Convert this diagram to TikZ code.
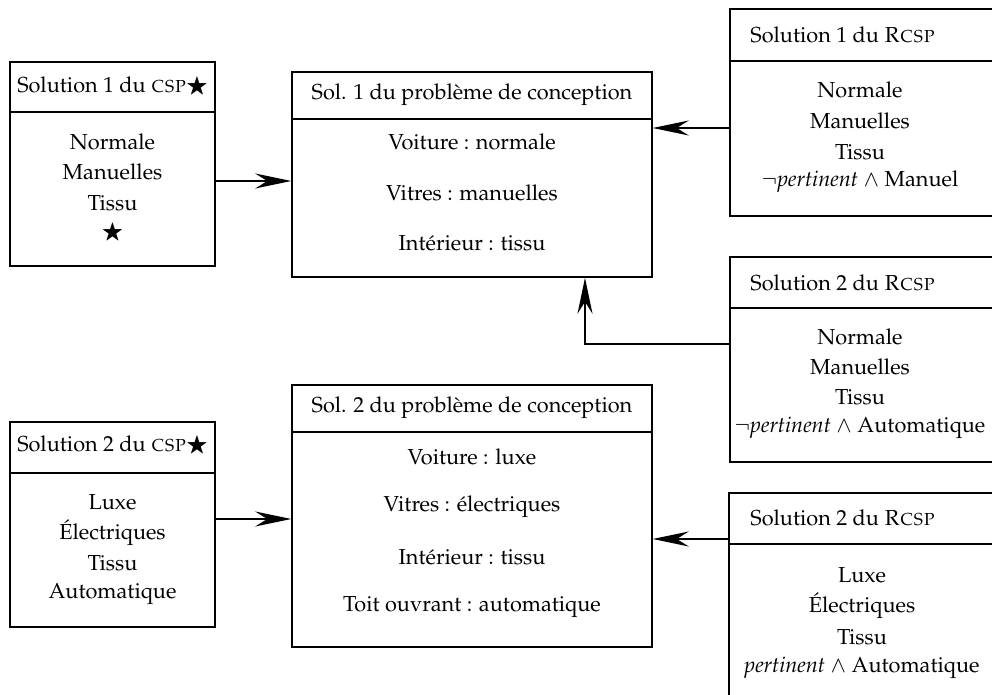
\documentclass[tikz,border=0pt]{standalone}
\usepackage[T1]{fontenc}
\usepackage{mathpazo}
\usepackage{amssymb}
\usetikzlibrary{arrows.meta}
\begin{document}
\begin{tikzpicture}[x=0.5pt,y=-0.5pt,
  box/.style={draw, line width=0.75pt, rectangle, inner sep=0pt},
  sep/.style={line width=0.75pt},
  txt/.style={inner sep=0pt, font=\fontsize{10.85}{13}\selectfont},
  conn/.style={line width=0.95pt, -{Stealth[length=18pt,width=7.5pt,inset=6pt]}}]
\useasboundingbox (0,0) rectangle (992,695);
\clip (0,0) rectangle (992,695);

% boxes
\node[box, minimum width=102.5pt, minimum height=102pt] (L1) at (112.5,164) {};
\node[box, minimum width=180pt, minimum height=102.5pt] (M1) at (472,174.5) {};
\node[box, minimum width=135pt, minimum height=103.5pt] (R1) at (865,112.5) {};
\node[box, minimum width=135pt, minimum height=102.5pt] (R2) at (865,359.5) {};
\node[box, minimum width=102.5pt, minimum height=102.5pt] (L2) at (112.5,524.5) {};
\node[box, minimum width=180pt, minimum height=131pt] (M2) at (472,516) {};
\node[box, minimum width=135.5pt, minimum height=120pt] (R3) at (864.5,613) {};

% header separators
\draw[sep] (10,112) -- (215,112);
\draw[sep] (292,119) -- (652,119);
\draw[sep] (730,61) -- (1000,61);
\draw[sep] (730,308) -- (1000,308);
\draw[sep] (10,473) -- (215,473);
\draw[sep] (292,432) -- (652,432);
\draw[sep] (729,544) -- (1000,544);

% L1
\node[txt] (L1h) at (112.5,87) {Solution 1 du \textsc{csp}$\bigstar$};
\node[txt] (L1a) at (112.5,142) {Normale};
\node[txt] (L1b) at (112.5,172) {Manuelles};
\node[txt] (L1c) at (112.5,203) {Tissu};
\node[txt] (L1d) at (112.5,233) {$\bigstar$};

% M1
\node[txt] (M1h) at (472,95) {Sol. 1 du probl\`eme de conception};
\node[txt] (M1a) at (472,142) {Voiture : normale};
\node[txt] (M1b) at (472,193) {Vitres : manuelles};
\node[txt] (M1c) at (472,243) {Int\'erieur : tissu};

% R1
\node[txt, anchor=west] (R1h) at (750,35) {Solution 1 du \textsc{Rcsp}};
\node[txt] (R1a) at (860,90) {Normale};
\node[txt] (R1b) at (860,121) {Manuelles};
\node[txt] (R1c) at (860,152) {Tissu};
\node[txt] (R1d) at (860,182) {$\neg$\textit{pertinent} $\wedge$ Manuel};

% R2
\node[txt, anchor=west] (R2h) at (750,283) {Solution 2 du \textsc{Rcsp}};
\node[txt] (R2a) at (860,337) {Normale};
\node[txt] (R2b) at (860,367) {Manuelles};
\node[txt] (R2c) at (860,397) {Tissu};
\node[txt] (R2d) at (860,428) {$\neg$\textit{pertinent} $\wedge$ Automatique};

% L2
\node[txt] (L2h) at (112.5,446) {Solution 2 du \textsc{csp}$\bigstar$};
\node[txt] (L2a) at (112.5,502) {Luxe};
\node[txt] (L2b) at (112.5,533) {\'Electriques};
\node[txt] (L2c) at (112.5,563) {Tissu};
\node[txt] (L2d) at (112.5,594) {Automatique};

% M2
\node[txt] (M2h) at (472,408) {Sol. 2 du probl\`eme de conception};
\node[txt] (M2a) at (472,457) {Voiture : luxe};
\node[txt] (M2b) at (472,507) {Vitres : \'electriques};
\node[txt] (M2c) at (472,557) {Int\'erieur : tissu};
\node[txt] (M2d) at (472,607) {Toit ouvrant : automatique};

% R3
\node[txt, anchor=west] (R3h) at (750,518) {Solution 2 du \textsc{Rcsp}};
\node[txt] (R3a) at (862,575) {Luxe};
\node[txt] (R3b) at (862,606) {\'Electriques};
\node[txt] (R3c) at (862,637) {Tissu};
\node[txt] (R3d) at (862,668) {\textit{pertinent} $\wedge$ Automatique};

% connectors
\coordinate (ya) at (0,181);
\coordinate (yb) at (0,519);
\coordinate (yc) at (0,128);
\coordinate (yd) at (0,344);
\coordinate (ye) at (0,539);
\coordinate (xd) at (585,0);
\draw[conn] (L1.east |- ya) -- (M1.west |- ya);
\draw[conn] (L2.east |- yb) -- (M2.west |- yb);
\draw[conn] (R1.west |- yc) -- (M1.east |- yc);
\draw[conn] (R2.west |- yd) -| (xd |- M1.south);
\draw[conn] (R3.west |- ye) -- (M2.east |- ye);
\end{tikzpicture}
\end{document}
